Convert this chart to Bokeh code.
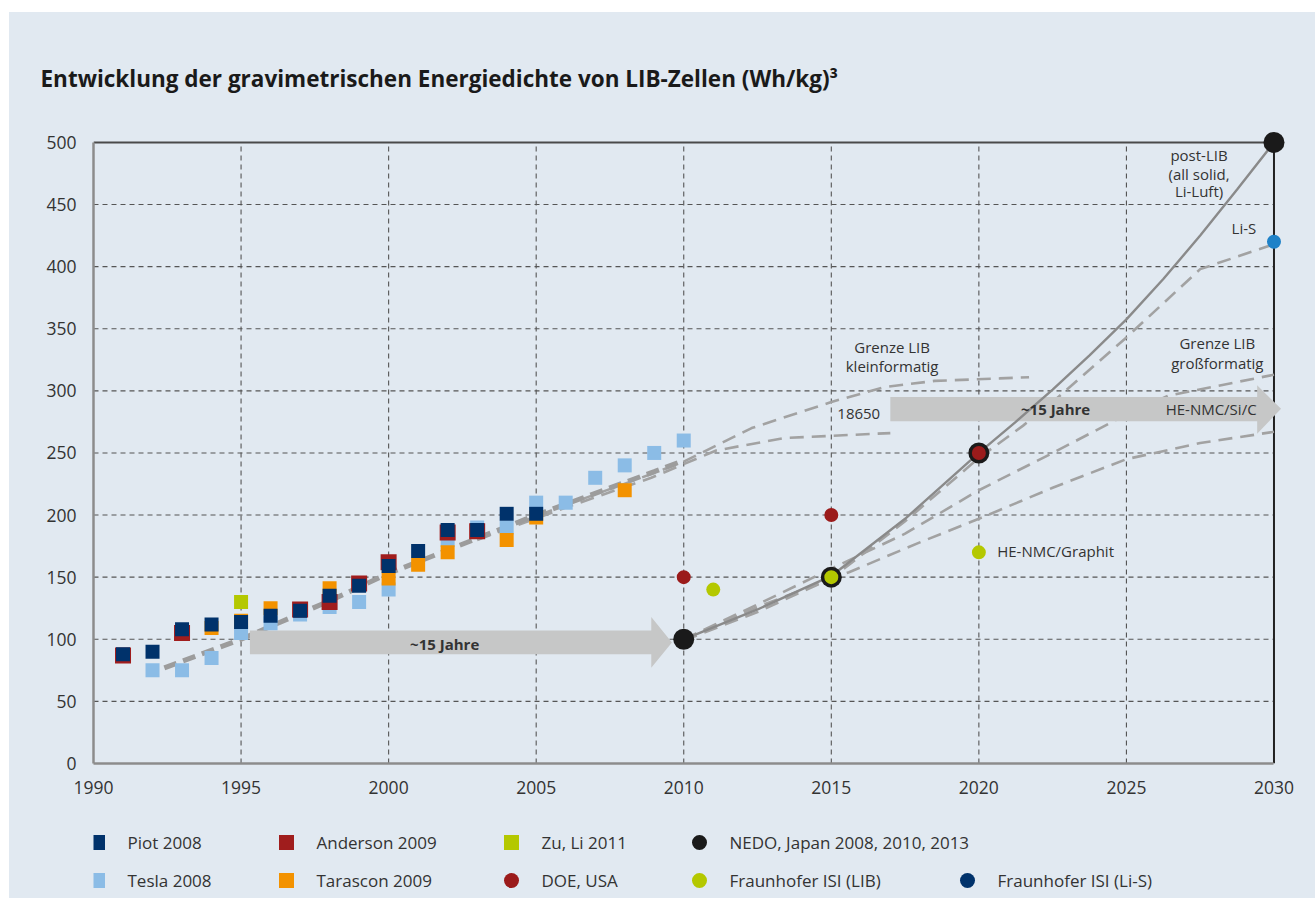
from bokeh.plotting import figure
from bokeh.models import Range1d, FixedTicker, Label, Title, Spacer
from bokeh.layouts import column, row
from bokeh.core.properties import value
from bokeh.embed import file_html
from bokeh.resources import INLINE

BG = "#e1e9f1"
FONT = "Open Sans"
TXT = "#333333"

# ---------------- data ----------------
x_ticks = [1990, 1995, 2000, 2005, 2010, 2015, 2020, 2025, 2030]
y_ticks = [0, 50, 100, 150, 200, 250, 300, 350, 400, 450, 500]

piot_years = [1991, 1992, 1993, 1994, 1995, 1996, 1997, 1998, 1999, 2000, 2001, 2002, 2003, 2004, 2005]
piot_vals = [88, 90, 108, 112, 114, 119, 123, 135, 143, 159, 171, 188, 188, 201, 201]

anderson_years = [1991, 1993, 1997, 1998, 1999, 2000, 2002, 2003]
anderson_vals = [87, 105, 124, 130, 145, 162, 186, 187]

tesla_years = [1992, 1993, 1994, 1995, 1996, 1997, 1998, 1999, 2000, 2002, 2003, 2004, 2005, 2006, 2007, 2008, 2009, 2010]
tesla_vals = [75, 75, 85, 105, 113, 120, 126, 130, 140, 180, 190, 190, 210, 210, 230, 240, 250, 260]

tarascon_years = [1994, 1995, 1996, 1998, 2000, 2001, 2002, 2004, 2005, 2008]
tarascon_vals = [109, 115, 125, 141, 149, 160, 170, 180, 198, 220]

zuli_years = [1995]
zuli_vals = [130]

nedo_years = [2010, 2015, 2020, 2030]
nedo_vals = [100, 150, 250, 500]

doe_years = [2010, 2015, 2020]
doe_vals = [150, 200, 250]

isi_lib_years = [2011, 2015, 2020]
isi_lib_vals = [140, 150, 170]

isi_lis_years = [2030]
isi_lis_vals = [420]

# trend / projection curves
trend_years = [1992.4, 1995, 1998, 2000, 2005, 2009, 2010]
trend_vals = [77, 100, 131, 153, 200, 235, 244]

klein_years = [2003, 2006, 2008.9, 2010, 2012.3, 2015, 2016.8, 2018.5, 2020.7, 2021.7]
klein_vals = [181, 208, 233, 243, 270, 291, 303, 308, 310, 311]

c18650_years = [2003, 2006, 2008.9, 2011.1, 2013.4, 2017]
c18650_vals = [180, 206, 230, 252, 262, 266]

postlib_years = [2010, 2012.5, 2015, 2017.5, 2020, 2021.25, 2022.5, 2023.75, 2025, 2026.25, 2027.5, 2028.75, 2030]
postlib_vals = [100, 124, 151, 197, 250, 275, 301, 328.5, 357.5, 390, 425, 462, 500]

lis_years = [2010, 2012.5, 2015, 2017.5, 2020, 2021.5, 2022.5, 2025, 2027.5, 2030]
lis_vals = [99, 122, 149, 195, 246, 272, 291, 343, 398, 418]

gross_years = [2010, 2012.5, 2015.1, 2017.5, 2020, 2022.5, 2024.6, 2026.4, 2030]
gross_vals = [100, 128, 158, 185, 220, 250, 276, 296, 313]

henmc_years = [2010, 2012.5, 2015.6, 2018, 2020, 2022.5, 2025, 2027.5, 2030]
henmc_vals = [100, 126, 154, 178, 197, 222, 245, 258, 267]

# arrows: start, head base, tip (years); band bottom/top, head bottom/top, tip value
arrow1 = dict(x0=1995.3, xh=2008.9, xt=2009.6, b=88, t=107, hb=77, ht=118, yt=97.5)
arrow2 = dict(x0=2017.0, xh=2029.43, xt=2030.24, b=275.6, t=295, hb=265.5, ht=304.5, yt=285.5)

legend_names = ["Piot 2008", "Anderson 2009", "Zu, Li 2011", "NEDO, Japan 2008, 2010, 2013",
                "Tesla 2008", "Tarascon 2009", "DOE, USA", "Fraunhofer ISI (LIB)", "Fraunhofer ISI (Li-S)"]
legend_colors = ["#00326b", "#a01d1d", "#b4c800", "#1a1a1a",
                 "#8bbce6", "#f39200", "#9b1b1b", "#b4c800", "#00326b"]
legend_markers = ["square", "square", "square", "circle",
                  "square", "square", "circle", "circle", "circle"]
legend_x = [97, 286, 511, 699, 97, 286, 511, 699, 967]
legend_row = [56, 56, 56, 56, 18, 18, 18, 18, 18]

# ---------------- main figure ----------------
p = figure(width=1306, height=798, x_range=Range1d(1990, 2031), y_range=Range1d(0, 512),
           output_backend="svg", toolbar_location=None,
           min_border_left=84, min_border_right=12, min_border_top=115, min_border_bottom=47,
           background_fill_color=BG, border_fill_color=BG, outline_line_color=None)
p.xgrid.visible = False
p.ygrid.visible = False

p.title = Title(text="Entwicklung der gravimetrischen Energiedichte von LIB-Zellen (Wh/kg)³",
                text_font=FONT, text_font_size="22.5px", text_font_style="bold",
                text_color="#1a1a1a", align="left", offset=-53, standoff=68,
                vertical_align="bottom")

for ax, ticks, bnds in ((p.xaxis, x_ticks, (1990, 2030)), (p.yaxis, y_ticks, (0, 500))):
    ax.ticker = FixedTicker(ticks=ticks)
    ax.bounds = bnds
    ax.axis_line_color = "#8c8c8c"
    ax.axis_line_width = 2.5
    ax.major_tick_line_color = None
    ax.minor_tick_line_color = None
    ax.major_label_text_font = FONT
    ax.major_label_text_font_size = "17.5px"
    ax.major_label_text_color = TXT
    ax.major_label_standoff = 11

# grid lines (dashed), derived from tick lists
vx = [t for t in x_ticks if 1990 < t < 2030]
hy = [t for t in y_ticks if 0 < t < 500]
p.segment(x0=vx, y0=[0] * len(vx), x1=vx, y1=[500] * len(vx), line_color="#555555",
          line_width=1.1, line_dash="5 4")
p.segment(x0=[1990] * len(hy), y0=hy, x1=[2030] * len(hy), y1=hy, line_color="#555555",
          line_width=1.1, line_dash="5 4")
# top and right frame lines
p.line([x_ticks[0], x_ticks[-1]], [y_ticks[-1], y_ticks[-1]], line_color="#4a4a4a", line_width=2)
p.line([x_ticks[-1], x_ticks[-1]], [y_ticks[0], y_ticks[-1]], line_color="#222222", line_width=2)

# projection curves
DASHC = "#a2a2a2"
p.line(klein_years, klein_vals, line_color=DASHC, line_width=2.6, line_dash="14 8")
p.line(c18650_years, c18650_vals, line_color=DASHC, line_width=2.6, line_dash="14 8")
p.line(trend_years, trend_vals, line_color="#9c9c9c", line_width=5, line_dash="13 7")
p.line(lis_years, lis_vals, line_color=DASHC, line_width=2.6, line_dash="14 8")
p.line(gross_years, gross_vals, line_color=DASHC, line_width=2.6, line_dash="14 8")
p.line(henmc_years, henmc_vals, line_color=DASHC, line_width=2.6, line_dash="14 8")

# arrows
for a in (arrow1, arrow2):
    xs = [a["x0"], a["xh"], a["xh"], a["xt"], a["xh"], a["xh"], a["x0"]]
    ys = [a["b"], a["b"], a["hb"], a["yt"], a["ht"], a["t"], a["t"]]
    p.patch(xs, ys, fill_color="#c6c7c7", line_color=None)

p.line(postlib_years, postlib_vals, line_color="#8a8a8a", line_width=2.4)

# data markers
p.scatter(tesla_years, tesla_vals, marker="square", size=14, fill_color="#8bbce6", line_color=None)
p.scatter(tarascon_years, tarascon_vals, marker="square", size=14, fill_color="#f39200", line_color=None)
p.scatter(anderson_years, anderson_vals, marker="square", size=16, fill_color="#a01d1d", line_color=None)
p.scatter(piot_years, piot_vals, marker="square", size=14, fill_color="#00326b", line_color=None)
p.scatter(zuli_years, zuli_vals, marker="square", size=14, fill_color="#b4c800", line_color=None)

p.scatter(nedo_years, nedo_vals, marker="circle", size=21, fill_color="#1a1a1a", line_color=None)
p.scatter(doe_years, doe_vals, marker="circle", size=14, fill_color="#9b1b1b", line_color=None)
p.scatter(isi_lib_years, isi_lib_vals, marker="circle", size=14, fill_color="#b4c800", line_color=None)
p.scatter(isi_lis_years, isi_lis_vals, marker="circle", size=14, fill_color="#1f82c8", line_color=None)


def lab(x, y, text, size="15px", align="center", style="normal", base="middle"):
    p.add_layout(Label(x=x, y=y, text=text, text_font=FONT, text_font_size=size,
                       text_color=TXT, text_align=align, text_baseline=base,
                       text_font_style=style))


lab(2017.06, 334.9, "Grenze LIB")
lab(2017.06, 319.6, "kleinformatig")
lab(2015.93, 281.5, "18650")
lab(2027.46, 490.0, "post-LIB")
lab(2027.46, 474.6, "(all solid,")
lab(2027.46, 460.5, "Li-Luft)")
lab(2028.98, 431.0, "Li-S")
lab(2028.08, 338.4, "Grenze LIB")
lab(2028.08, 322.5, "großformatig")
lab(2022.6, 285.0, "~15 Jahre", style="bold")
lab(2029.41, 285.0, "HE-NMC/Si/C", align="right")
lab(2020.62, 170.7, "HE-NMC/Graphit", align="left")
lab(2001.9, 96.6, "~15 Jahre", style="bold")

# ---------------- legend figure (x in page pixels, frame aligned with main plot) ----------------
lg = figure(width=1306, height=88, x_range=Range1d(93, 1303), y_range=Range1d(0, 88),
            output_backend="svg", toolbar_location=None, x_axis_type=None, y_axis_type=None,
            min_border_left=84, min_border_right=12, min_border_top=0, min_border_bottom=0,
            background_fill_color=BG, border_fill_color=BG, outline_line_color=None)
lg.xgrid.visible = False
lg.ygrid.visible = False
lg.scatter(legend_x, legend_row, marker=legend_markers, size=15, fill_color=legend_colors, line_color=None)
lg.text([x + 30 for x in legend_x], legend_row, text=legend_names, text_font=value(FONT),
        text_font_size="17px", text_color=TXT, text_baseline="middle", text_align="left")

inner = column(p, lg, spacing=0, styles={"background-color": BG})
layout = row(Spacer(width=9), column(Spacer(height=12), inner, spacing=0), spacing=0)
open("out.html", "w").write(file_html(layout, INLINE))
